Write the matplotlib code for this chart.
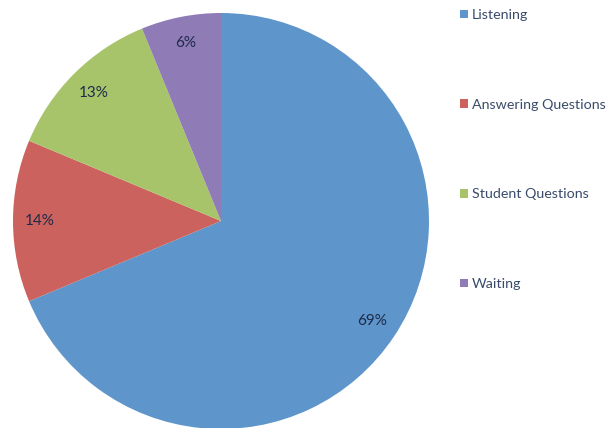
import matplotlib
matplotlib.use('Agg')
import matplotlib.pyplot as plt

categories = ['Listening', 'Answering Questions', 'Student Questions', 'Waiting']
# wedge sizes; printed labels as shown on the chart
shares = [68.7, 12.6, 12.5, 6.2]
pct_labels = ['69%', '14%', '13%', '6%']
colors = ['#5E95CA', '#CB625D', '#A7C46B', '#8F7BB6']

plt.rcParams['font.family'] = ['Lato', 'DejaVu Sans']

fig = plt.figure(figsize=(6.11, 4.28), dpi=100)
R = 208
cx, cy = 221, 428 - 221
ax = fig.add_axes([(cx - R) / 611, (cy - R) / 428, 2 * R / 611, 2 * R / 428])

wedges, texts = ax.pie(
    shares, colors=colors, startangle=90, counterclock=False,
    labels=pct_labels, labeldistance=0.87, radius=1.0,
    wedgeprops=dict(linewidth=0),
    textprops=dict(color='#1E2A4A', fontsize=11, ha='center', va='center'))
ax.set_xlim(-1, 1)
ax.set_ylim(-1, 1)
ax.set_aspect('auto')

leg = fig.legend(wedges, categories, loc='upper left',
                 bbox_to_anchor=(460 / 611, 1 - 9 / 428), frameon=False,
                 fontsize=10.3, handlelength=0.55, handleheight=0.55,
                 handletextpad=0.3, labelspacing=5.43, borderpad=0,
                 borderaxespad=0)
for t in leg.get_texts():
    t.set_color('#3A4B6A')

fig.savefig('out.png', dpi=100, facecolor='white')
